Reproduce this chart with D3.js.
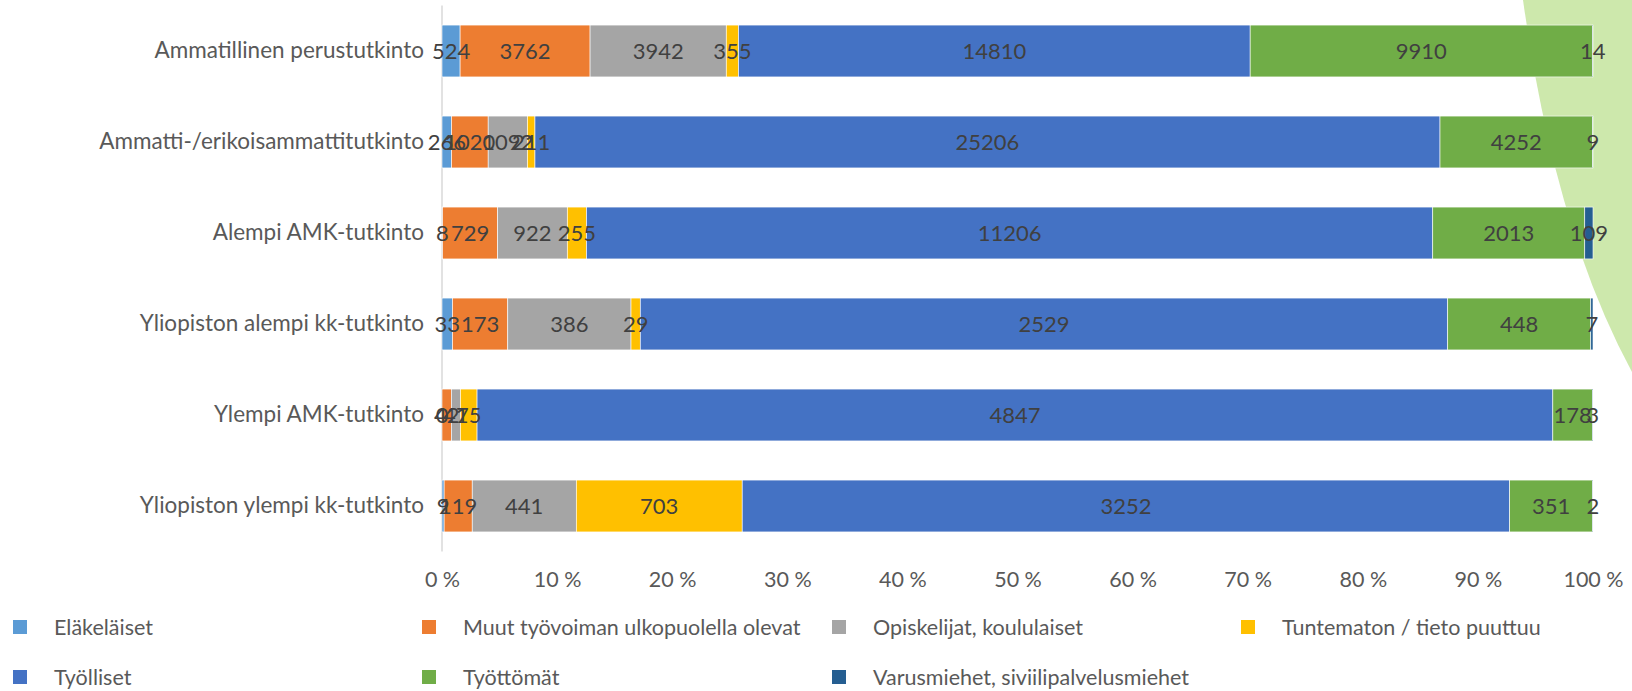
<!DOCTYPE html>
<html>
<head>
<meta charset="utf-8">
<script src="https://cdn.jsdelivr.net/npm/d3@7"></script>
<style>
  body { margin: 0; background: #fff; }
  svg text { font-family: Lato, "Open Sans", sans-serif; }
</style>
</head>
<body>
<svg id="chart"></svg>
<script>
// Categories top to bottom
const categories = [
  'Ammatillinen perustutkinto',
  'Ammatti-/erikoisammattitutkinto',
  'Alempi AMK-tutkinto',
  'Yliopiston alempi kk-tutkinto',
  'Ylempi AMK-tutkinto',
  'Yliopiston ylempi kk-tutkinto'
];

// Series values, one entry per category
const elakelaiset = [524, 266, 8, 33, 0, 9];
const muutUlkopuolella = [3762, 1020, 729, 173, 42, 119];
const opiskelijat = [3942, 1092, 922, 386, 41, 441];
const tuntematon = [355, 211, 255, 29, 75, 703];
const tyolliset = [14810, 25206, 11206, 2529, 4847, 3252];
const tyottomat = [9910, 4252, 2013, 448, 178, 351];
const varusmiehet = [14, 9, 109, 7, 3, 2];

const seriesNames = [
  'Eläkeläiset',
  'Muut työvoiman ulkopuolella olevat',
  'Opiskelijat, koululaiset',
  'Tuntematon / tieto puuttuu',
  'Työlliset',
  'Työttömät',
  'Varusmiehet, siviilipalvelusmiehet'
];
const seriesValues = [elakelaiset, muutUlkopuolella, opiskelijat, tuntematon, tyolliset, tyottomat, varusmiehet];
const seriesColors = ['#5b9bd5', '#ed7d31', '#a5a5a5', '#ffc000', '#4472c4', '#70ad47', '#255e91'];

const tickValues = [0, 0.1, 0.2, 0.3, 0.4, 0.5, 0.6, 0.7, 0.8, 0.9, 1];

class StackedBar {
  constructor(_config) {
    this.config = {
      parentElement: _config.parentElement,
      containerWidth: _config.containerWidth || 1632,
      containerHeight: _config.containerHeight || 691,
      margin: _config.margin || { top: 5.5, right: 39, bottom: 139.5, left: 442 }
    };
    this.initVis();
  }

  initVis() {
    let vis = this;
    vis.width = vis.config.containerWidth - vis.config.margin.left - vis.config.margin.right;
    vis.height = vis.config.containerHeight - vis.config.margin.top - vis.config.margin.bottom;

    vis.svg = d3.select(vis.config.parentElement)
      .attr('width', vis.config.containerWidth)
      .attr('height', vis.config.containerHeight);

    // light green decoration in the top right corner
    vis.svg.append('path')
      .attr('d', 'M1523,0 Q1555,230 1632,372 L1632,0 Z')
      .attr('fill', '#cde8ac');

    vis.chart = vis.svg.append('g')
      .attr('transform', `translate(${vis.config.margin.left},${vis.config.margin.top})`);

    vis.xScale = d3.scaleLinear().domain([0, 1]).range([0, vis.width]);
    vis.yScale = d3.scaleBand()
      .domain(categories)
      .range([0, vis.height])
      .paddingInner(0.43)
      .paddingOuter(0.215);

    vis.xAxis = d3.axisBottom(vis.xScale)
      .tickValues(tickValues)
      .tickSize(0)
      .tickPadding(20)
      .tickFormat(d => Math.round(d * 100) + ' %');

    vis.yAxis = d3.axisLeft(vis.yScale)
      .tickSize(0)
      .tickPadding(18);

    vis.xAxisG = vis.chart.append('g')
      .attr('class', 'axis x-axis')
      .attr('transform', `translate(0,${vis.height})`);
    vis.yAxisG = vis.chart.append('g').attr('class', 'axis y-axis');
  }

  updateVis() {
    let vis = this;
    // build rows, then stack the normalised shares
    vis.rows = categories.map((c, i) => {
      let row = { category: c };
      let total = d3.sum(seriesValues, s => s[i]);
      seriesNames.forEach((n, k) => {
        row[n] = seriesValues[k][i] / total;
        row[n + '_raw'] = seriesValues[k][i];
      });
      return row;
    });
    vis.stacked = d3.stack().keys(seriesNames)(vis.rows);
    vis.renderVis();
  }

  renderVis() {
    let vis = this;

    vis.xAxisG.call(vis.xAxis)
      .call(g => g.select('.domain').remove())
      .call(g => g.selectAll('.tick text')
        .attr('fill', '#595959')
        .style('font-size', '21.5px'));

    vis.yAxisG.call(vis.yAxis)
      .call(g => g.select('.domain')
        .attr('stroke', '#d9d9d9')
        .attr('stroke-width', 1.5)
        .attr('d', `M0,0V${vis.height}`))
      .call(g => g.selectAll('.tick text')
        .attr('fill', '#595959')
        .style('font-size', '22.5px'));

    const layers = vis.chart.selectAll('.layer')
      .data(vis.stacked)
      .join('g')
      .attr('class', 'layer')
      .attr('fill', (d, i) => seriesColors[i]);

    layers.selectAll('rect')
      .data(d => d.map(p => ({ p: p, key: d.key })))
      .join('rect')
      .attr('x', d => vis.xScale(d.p[0]))
      .attr('y', d => vis.yScale(d.p.data.category))
      .attr('width', d => vis.xScale(d.p[1]) - vis.xScale(d.p[0]))
      .attr('height', vis.yScale.bandwidth())
      .attr('stroke', '#ffffff')
      .attr('stroke-width', 0.6);

    // data labels on top of all bars
    const labels = vis.stacked.flatMap(s => s.map(p => ({ p: p, key: s.key })));
    vis.chart.selectAll('.value-label')
      .data(labels)
      .join('text')
      .attr('class', 'value-label')
      .attr('x', d => vis.xScale((d.p[0] + d.p[1]) / 2))
      .attr('y', d => vis.yScale(d.p.data.category) + vis.yScale.bandwidth() / 2)
      .attr('dy', '0.36em')
      .attr('text-anchor', 'middle')
      .attr('fill', '#404040')
      .style('font-size', '22px')
      .text(d => d.p.data[d.key + '_raw']);

    // legend, 4 columns by 2 rows
    const legendX = [13, 422, 832, 1241];
    const legendY = [627, 677];
    const legend = vis.svg.selectAll('.legend-item')
      .data(seriesNames)
      .join('g')
      .attr('class', 'legend-item')
      .attr('transform', (d, i) => `translate(${legendX[i % 4]},${legendY[Math.floor(i / 4)]})`);
    legend.append('rect')
      .attr('x', 0).attr('y', -7)
      .attr('width', 14).attr('height', 14)
      .attr('fill', (d, i) => seriesColors[i]);
    legend.append('text')
      .attr('x', 41)
      .attr('dy', '0.36em')
      .attr('fill', '#595959')
      .style('font-size', '21.5px')
      .text(d => d);
  }
}

const chart = new StackedBar({ parentElement: '#chart' });
chart.updateVis();
</script>
</body>
</html>
